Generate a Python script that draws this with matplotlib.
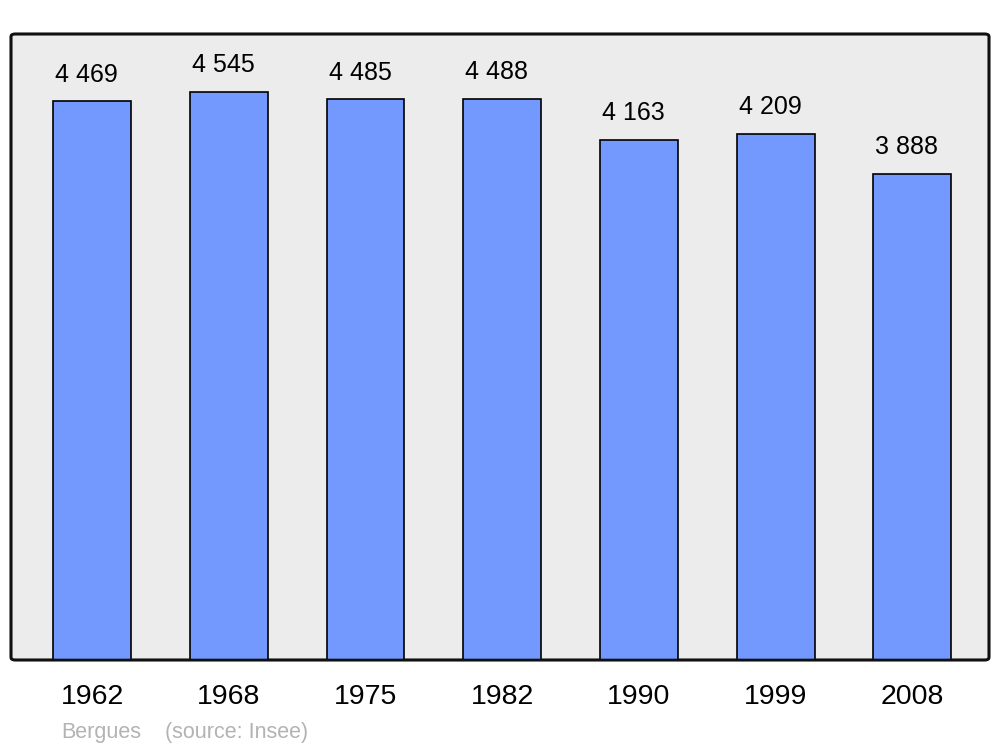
import matplotlib
matplotlib.use("Agg")
import matplotlib.pyplot as plt
from matplotlib.patches import FancyBboxPatch

years = ["1962", "1968", "1975", "1982", "1990", "1999", "2008"]
population = [4469, 4545, 4485, 4488, 4163, 4209, 3888]
value_labels = ["4 469", "4 545", "4 485", "4 488", "4 163", "4 209", "3 888"]
commune = "Bergues"
source = "(source: Insee)"

plt.rcParams['font.family'] = ['Liberation Sans', 'DejaVu Sans']

fig = plt.figure(figsize=(10, 7.47), dpi=100)
ax = fig.add_axes([0.011, 1 - 660/747, 0.978, (660 - 34)/747])
ax.set_facecolor('none')

x = list(range(len(years)))
ax.bar(x, population, width=0.57, color='#7399ff', edgecolor='black',
       linewidth=1.2, zorder=2)
for xi, v, lab in zip(x, population, value_labels):
    ax.annotate(lab, (xi - 0.04, v), xytext=(0, 14.2), textcoords='offset points',
                ha='center', va='baseline', fontsize=18, color='black')

ax.set_xlim(-0.593, 6.56)
ax.set_ylim(0, 5008)
ax.set_xticks(x)
ax.set_xticklabels(years, fontsize=20.5)
ax.set_yticks([])
ax.tick_params(axis='x', length=0, pad=17.5)
for s in ax.spines.values():
    s.set_visible(False)

bg = FancyBboxPatch((0, 0), 1, 1, boxstyle="round,pad=0,rounding_size=0.004",
                    transform=ax.transAxes, facecolor='#ececec',
                    edgecolor='#111111', linewidth=1.9, zorder=0, clip_on=False)
ax.add_patch(bg)
border = FancyBboxPatch((0, 0), 1, 1, boxstyle="round,pad=0,rounding_size=0.004",
                        transform=ax.transAxes, facecolor='none',
                        edgecolor='#111111', linewidth=1.9, zorder=3, clip_on=False)
ax.add_patch(border)

fig.text(0.061, 1 - 738/747, commune, fontsize=15.5, color='#b3b3b3',
         ha='left', va='baseline')
fig.text(0.165, 1 - 738/747, source, fontsize=15.5, color='#b3b3b3',
         ha='left', va='baseline')

fig.savefig('out.png', dpi=100, facecolor='white')
